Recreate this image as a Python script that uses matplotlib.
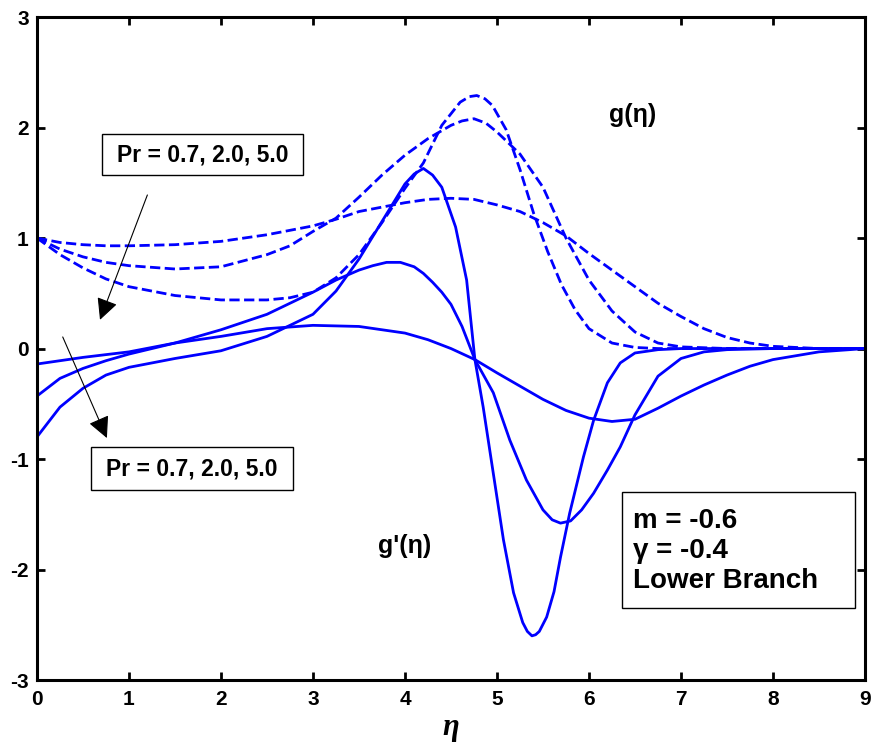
import matplotlib
matplotlib.use('Agg')
import matplotlib.pyplot as plt
from matplotlib.patches import Rectangle

plt.rcParams['font.family'] = ['Liberation Sans', 'DejaVu Sans']
plt.rcParams['axes.unicode_minus'] = False

# g(eta), dashed curves, Pr = 0.7, 2.0, 5.0
eta_g07 = [0, 0.25, 0.5, 0.75, 1.0, 1.5, 2.0, 2.5, 3.0, 3.25, 3.5, 4.0, 4.25, 4.5, 4.75,
           5.0, 5.25, 5.5, 5.75, 6.0, 6.25, 6.5, 6.75, 7.0, 7.25, 7.5, 7.75, 8.0, 8.5, 9.0]
g_07 = [1.0, 0.96, 0.94, 0.93, 0.93, 0.94, 0.97, 1.03, 1.11, 1.17, 1.24, 1.32, 1.35, 1.36, 1.35,
        1.30, 1.24, 1.14, 1.02, 0.86, 0.71, 0.56, 0.41, 0.29, 0.18, 0.10, 0.05, 0.02, 0.0, 0.0]

eta_g20 = [0, 0.25, 0.5, 0.75, 1.0, 1.5, 2.0, 2.5, 2.75, 3.0, 3.25, 3.5, 3.75, 4.0, 4.25, 4.5,
           4.62, 4.75, 4.88, 5.0, 5.25, 5.5, 5.75, 6.0, 6.25, 6.5, 6.75, 7.0, 7.5, 8.0, 9.0]
g_20 = [1.0, 0.90, 0.83, 0.78, 0.75, 0.72, 0.74, 0.85, 0.93, 1.06, 1.18, 1.37, 1.57, 1.75, 1.90, 2.02,
        2.06, 2.08, 2.04, 1.96, 1.76, 1.46, 1.00, 0.62, 0.34, 0.15, 0.05, 0.015, 0.0, 0.0, 0.0]

eta_g50 = [0, 0.25, 0.5, 0.75, 1.0, 1.5, 2.0, 2.5, 2.75, 3.0, 3.25, 3.5, 3.75, 4.0, 4.2, 4.4,
           4.6, 4.7, 4.78, 4.87, 4.95, 5.1, 5.25, 5.4, 5.55, 5.7, 5.85, 6.0, 6.25, 6.5, 6.75, 7.0, 8.0, 9.0]
g_50 = [1.0, 0.85, 0.73, 0.63, 0.56, 0.48, 0.44, 0.44, 0.46, 0.51, 0.64, 0.85, 1.14, 1.45, 1.68, 2.02,
        2.23, 2.28, 2.29, 2.26, 2.20, 1.98, 1.62, 1.22, 0.88, 0.58, 0.35, 0.18, 0.05, 0.01, 0.0, 0.0, 0.0, 0.0]

# g'(eta), solid curves, Pr = 0.7, 2.0, 5.0
eta_gp07 = [0, 0.25, 0.5, 1.0, 1.5, 2.0, 2.5, 3.0, 3.5, 4.0, 4.25, 4.5, 4.76, 5.0, 5.25, 5.5,
            5.75, 6.0, 6.25, 6.5, 6.75, 7.0, 7.25, 7.5, 7.75, 8.0, 8.5, 9.0]
gp_07 = [-0.14, -0.11, -0.08, -0.03, 0.05, 0.11, 0.18, 0.21, 0.20, 0.14, 0.08, 0.0, -0.10, -0.22, -0.34, -0.46,
         -0.56, -0.63, -0.66, -0.64, -0.54, -0.43, -0.33, -0.24, -0.16, -0.10, -0.03, 0.0]

eta_gp20 = [0, 0.25, 0.5, 0.75, 1.0, 1.5, 2.0, 2.5, 3.0, 3.25, 3.5, 3.65, 3.8, 3.95, 4.1, 4.2, 4.3,
            4.4, 4.5, 4.62, 4.76, 4.96, 5.14, 5.32, 5.5, 5.6, 5.69, 5.8, 5.92, 6.05, 6.2, 6.34, 6.5,
            6.75, 7.0, 7.25, 7.5, 8.0, 9.0]
gp_20 = [-0.43, -0.27, -0.18, -0.11, -0.05, 0.05, 0.17, 0.31, 0.51, 0.62, 0.71, 0.75, 0.78, 0.78, 0.74, 0.68, 0.60,
         0.51, 0.40, 0.20, -0.10, -0.40, -0.83, -1.19, -1.46, -1.55, -1.58, -1.56, -1.46, -1.31, -1.10, -0.89, -0.60,
         -0.25, -0.09, -0.03, -0.01, 0.0, 0.0]

eta_gp50 = [0, 0.25, 0.5, 0.75, 1.0, 1.5, 2.0, 2.5, 3.0, 3.25, 3.5, 3.75, 4.0, 4.1, 4.2, 4.3, 4.4,
            4.55, 4.67, 4.76, 4.85, 4.96, 5.07, 5.18, 5.28, 5.33, 5.38, 5.42, 5.46, 5.54, 5.62, 5.69,
            5.79, 5.94, 6.05, 6.2, 6.34, 6.5, 6.75, 7.0, 8.0, 9.0]
gp_50 = [-0.80, -0.53, -0.36, -0.24, -0.17, -0.09, -0.02, 0.11, 0.31, 0.52, 0.81, 1.15, 1.49, 1.58, 1.63, 1.57, 1.46,
         1.10, 0.62, -0.10, -0.53, -1.13, -1.73, -2.21, -2.48, -2.56, -2.60, -2.59, -2.56, -2.43, -2.20, -1.89,
         -1.49, -0.98, -0.65, -0.31, -0.13, -0.04, -0.01, 0.0, 0.0, 0.0]

xticks = [0, 1, 2, 3, 4, 5, 6, 7, 8, 9]
yticks = [-3, -2, -1, 0, 1, 2, 3]
pr_label = 'Pr = 0.7, 2.0, 5.0'
params_label = 'm = -0.6\nγ = -0.4\nLower Branch'

fig = plt.figure(figsize=(8.74, 7.52), dpi=100)
ax = fig.add_axes([0.0423, 0.0957, 0.9474, 0.8816])

blue = '#0000ff'
for x, y in [(eta_g07, g_07), (eta_g20, g_20), (eta_g50, g_50)]:
    ax.plot(x, y, color=blue, lw=2.0, linestyle='--', dash_joinstyle='round')
for x, y in [(eta_gp07, gp_07), (eta_gp20, gp_20), (eta_gp50, gp_50)]:
    ax.plot(x, y, color=blue, lw=2.0, linestyle='-', solid_joinstyle='round')

ax.set_xlim(0, 9)
ax.set_ylim(-3, 3)
ax.set_xticks(xticks)
ax.set_yticks(yticks)
ax.tick_params(direction='in', length=6, width=2, top=True, right=True, labelsize=15)
ax.tick_params(axis='y', pad=6)
ax.tick_params(axis='x', pad=7)
for lab in ax.get_xticklabels() + ax.get_yticklabels():
    lab.set_fontweight('bold')
for sp in ax.spines.values():
    sp.set_linewidth(2.2)

ax.set_xlabel('η', fontsize=22, fontweight='bold', fontstyle='italic',
              family=['Liberation Serif', 'DejaVu Serif'], labelpad=3)

# Pr annotations with arrows
arrow_kw = dict(arrowstyle='-|>,head_length=0.6,head_width=0.3', color='black', lw=0.8,
                mutation_scale=22, shrinkA=0, shrinkB=0)
ax.add_patch(Rectangle((0.707, 1.570), 2.184, 0.371, fc='white', ec='black', lw=1.0, zorder=3))
ax.text(1.80, 1.755, pr_label, fontsize=16.5, fontweight='bold', ha='center', va='center', zorder=4)
ax.annotate('', xy=(0.685, 0.26), xytext=(1.2, 1.39), arrowprops=arrow_kw)

ax.add_patch(Rectangle((0.587, -1.281), 2.196, 0.390, fc='white', ec='black', lw=1.0, zorder=3))
ax.text(1.685, -1.086, pr_label, fontsize=16.5, fontweight='bold', ha='center', va='center', zorder=4)
ax.annotate('', xy=(0.76, -0.81), xytext=(0.28, 0.105), arrowprops=arrow_kw)

ax.text(6.47, 2.11, 'g(η)', fontsize=18, fontweight='bold', ha='center', va='center')
ax.text(4.0, -1.79, "g'(η)", fontsize=18, fontweight='bold', ha='center', va='center')

# parameter box
ax.add_patch(Rectangle((6.36, -2.35), 2.53, 1.05, fill=False, ec='black', lw=1.0))
ax.text(6.48, -1.83, params_label, fontsize=20, fontweight='bold',
        ha='left', va='center', linespacing=1.2)

fig.savefig('out.png', dpi=100)
